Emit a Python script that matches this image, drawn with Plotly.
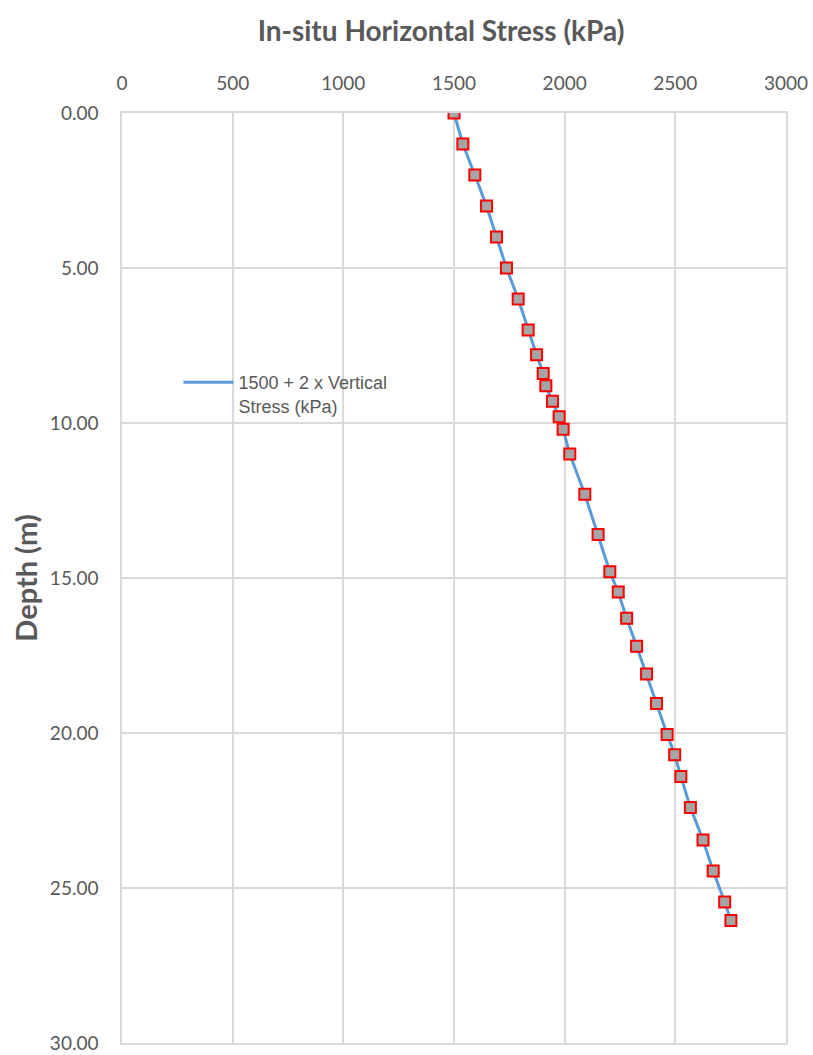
import plotly.graph_objects as go

depth_m = [0.0, 1.0, 2.0, 3.0, 4.0, 5.0, 6.0, 7.0, 7.8, 8.4, 8.8, 9.3, 9.8, 10.2, 11.0,
           12.3, 13.6, 14.8, 15.45, 16.3, 17.2, 18.1, 19.05, 20.05, 20.7, 21.4, 22.4,
           23.45, 24.45, 25.45, 26.05]
stress_kpa = [1500, 1540, 1594, 1647, 1692, 1737, 1790, 1835, 1873, 1903, 1915, 1945,
              1975, 1993, 2023, 2091, 2151, 2204, 2242, 2280, 2325, 2370, 2415, 2463,
              2497, 2525, 2568, 2625, 2671, 2723, 2751]
series_name = "1500 + 2 x Vertical<br>Stress (kPa)"
x_ticks = [0, 500, 1000, 1500, 2000, 2500, 3000]
y_ticks = [0, 5, 10, 15, 20, 25, 30]

gray_text = "#595959"
grid = "#d9d9d9"
calib = "Lato, Carlito, Calibri, sans-serif"

fig = go.Figure()
fig.add_trace(go.Scatter(
    x=stress_kpa, y=depth_m, mode="lines", name=series_name,
    line=dict(color="#5b9bd5", width=3), showlegend=True,
))
fig.add_trace(go.Scatter(
    x=stress_kpa, y=depth_m, mode="markers", showlegend=False,
    marker=dict(symbol="square", size=11, color="#a5a5a5",
                line=dict(color="#ff0000", width=2)),
))

fig.update_layout(
    width=813, height=1055,
    margin=dict(l=122, r=27, t=113, b=12),
    paper_bgcolor="white", plot_bgcolor="white",
    title=dict(text="<b>In-situ Horizontal Stress (kPa)</b>",
               x=441 / 813, xanchor="center", y=1 - 31 / 1055, yanchor="middle",
               font=dict(family=calib, size=28, color=gray_text)),
    xaxis=dict(side="top", range=[0, 3000], tickvals=x_ticks,
               ticktext=[str(v) for v in x_ticks], automargin=False,
               showgrid=True, gridcolor=grid, gridwidth=1.5,
               showline=True, linecolor=grid, linewidth=1.5, mirror=True,
               zeroline=False, ticks="", ticklabelstandoff=14,
               tickfont=dict(family=calib, size=19, color=gray_text)),
    yaxis=dict(range=[30, 0], tickvals=y_ticks,
               ticktext=["%.2f" % v for v in y_ticks], automargin=False,
               showgrid=True, gridcolor=grid, gridwidth=1.5,
               showline=True, linecolor=grid, linewidth=1.5, mirror=True,
               zeroline=False, ticks="", ticklabelstandoff=18,
               ticklabeloverflow="allow",
               tickfont=dict(family=calib, size=19, color=gray_text),
               title=dict(text="<b>Depth (m)</b>", standoff=4,
                          font=dict(family=calib, size=29, color=gray_text))),
    legend=dict(x=0.085, y=0.73, xanchor="left", yanchor="top", valign="top",
                bgcolor="rgba(0,0,0,0)", itemwidth=50,
                font=dict(family="Liberation Sans, Arial, sans-serif", size=18, color=gray_text)),
)

fig.write_html("out.html")
